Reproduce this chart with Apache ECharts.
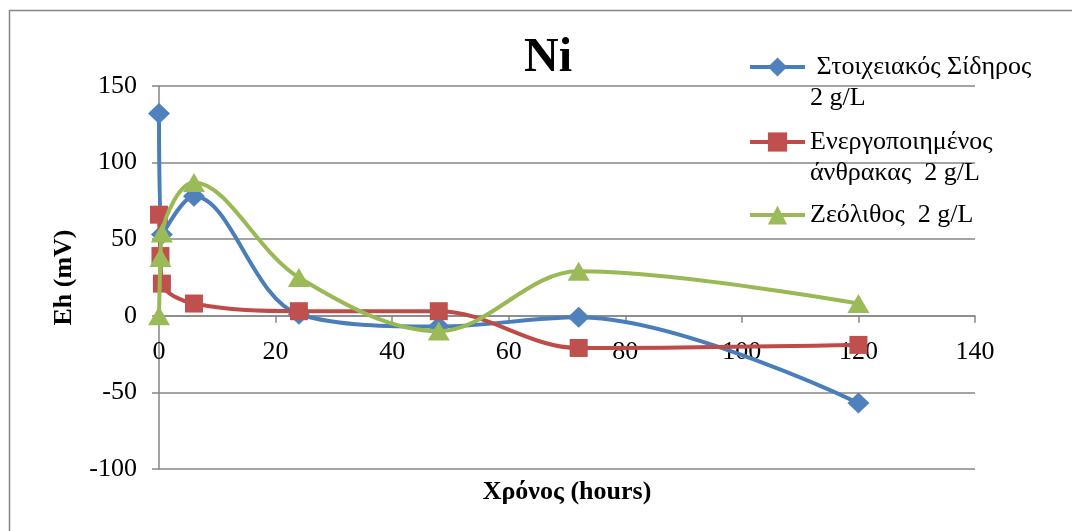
<!DOCTYPE html>
<html>
<head>
<meta charset="utf-8">
<script src="https://cdn.jsdelivr.net/npm/echarts@6/dist/echarts.min.js"></script>
<style>
html,body{margin:0;padding:0;background:#fff;}
#c{width:1072px;height:531px;}
</style>
</head>
<body>
<div id="c"></div>
<script>
var seriesNames = [' Στοιχειακός Σίδηρος\n2 g/L', 'Ενεργοποιημένος\nάνθρακας  2 g/L', 'Ζεόλιθος  2 g/L'];
var ironTimes = [0, 0.5, 6, 24, 48, 72, 120];
var ironValues = [132, 53, 78, 1, -7, -1, -57];
var carbonTimes = [0, 0.25, 0.5, 6, 24, 48, 72, 120];
var carbonValues = [66, 39, 21, 8, 3, 3, -21, -19];
var zeoliteTimes = [0, 0.25, 0.5, 6, 24, 48, 72, 120];
var zeoliteValues = [0, 38, 54, 87, 25, -10, 29, 8];
var xTicks = [0, 20, 40, 60, 80, 100, 120, 140];
var yTicks = [-100, -50, 0, 50, 100, 150];

function pairs(xs, ys) { return xs.map(function (x, i) { return [x, ys[i]]; }); }

var FONT = '"Liberation Serif", "Times New Roman", serif';
var colors = ['#4A7EBB', '#BE4B48', '#98B954'];
var markerColors = ['#4F81BD', '#C0504D', '#9BBB59'];
var symbols = ['diamond', 'rect', 'triangle'];
var symbolSizes = [[22, 21], 18, [22, 19]];
var datasets = [pairs(ironTimes, ironValues), pairs(carbonTimes, carbonValues), pairs(zeoliteTimes, zeoliteValues)];

var chart = echarts.init(document.getElementById('c'));
var legendCenters = [67, 142, 215];
var LH = 31;
var legends = seriesNames.map(function (n, i) {
  var multi = n.indexOf('\n') >= 0;
  return {
    data: [n],
    orient: 'vertical',
    left: 748,
    top: legendCenters[i] - (multi ? 1.5 * LH : 0.5 * LH),
    padding: 0,
    itemWidth: 55,
    itemHeight: 24,
    selectedMode: false,
    formatter: function (name) { return name.indexOf('\n') >= 0 ? '\n' + name : name; },
    textStyle: { fontFamily: FONT, fontSize: 26, color: '#000', lineHeight: LH },
    lineStyle: { width: 4 }
  };
});

chart.setOption({
  animation: false,
  backgroundColor: '#fff',
  title: {
    text: 'Ni', left: 548, top: 35, textAlign: 'center', padding: 0,
    textStyle: { fontFamily: FONT, fontSize: 48, fontWeight: 'bold', color: '#000' }
  },
  legend: legends,
  graphic: [{
    type: 'rect', shape: { x: 9.5, y: 10.5, width: 1200, height: 600 },
    style: { fill: 'none', stroke: '#868686', lineWidth: 1.5 }, silent: true, z: -1
  }],
  grid: { left: 159, right: 97, top: 86, bottom: 62, containLabel: false, outerBoundsMode: 'none' },
  xAxis: {
    type: 'value', min: xTicks[0], max: xTicks[xTicks.length - 1], interval: 20,
    name: 'Χρόνος (hours)', nameLocation: 'middle', nameGap: 10,
    nameTextStyle: { fontFamily: FONT, fontSize: 26, fontWeight: 'bold', color: '#000' },
    axisLine: { show: true, onZero: true, lineStyle: { color: '#868686', width: 1.5 } },
    axisTick: { show: true, inside: false, length: 7, lineStyle: { color: '#868686', width: 1.5 } },
    axisLabel: { fontFamily: FONT, fontSize: 26, color: '#000', margin: -130 },
    splitLine: { show: false }
  },
  yAxis: {
    type: 'value', min: yTicks[0], max: yTicks[yTicks.length - 1], interval: 50,
    name: 'Eh (mV)', nameLocation: 'middle', nameGap: 82,
    nameTextStyle: { fontFamily: FONT, fontSize: 26, fontWeight: 'bold', color: '#000' },
    axisLine: { show: true, lineStyle: { color: '#868686', width: 1.5 } },
    axisTick: { show: true, inside: false, length: 7, lineStyle: { color: '#868686', width: 1.5 } },
    axisLabel: { fontFamily: FONT, fontSize: 26, color: '#000', margin: 22 },
    splitLine: { show: true, lineStyle: { color: '#868686', width: 1.5 } }
  },
  series: datasets.map(function (d, i) {
    return {
      name: seriesNames[i], type: 'line', data: d, smooth: 0.35,
      symbol: symbols[i], symbolSize: symbolSizes[i], showAllSymbol: true,
      lineStyle: { color: colors[i], width: 4 },
      itemStyle: { color: markerColors[i], borderWidth: 0 },
      z: 2 + i
    };
  })
});
</script>
</body>
</html>
